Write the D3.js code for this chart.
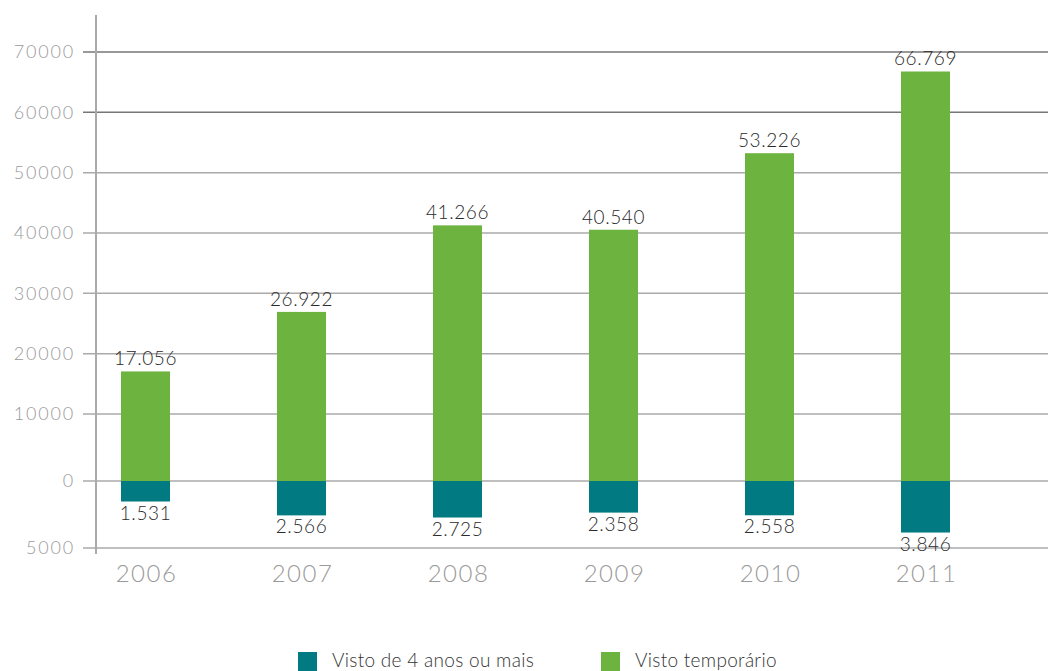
<!DOCTYPE html>
<html>
<head>
<meta charset="utf-8">
<script src="https://cdn.jsdelivr.net/npm/d3@7"></script>
<style>
  html, body { margin: 0; padding: 0; background: #fff; }
  svg { display: block; font-family: "Lato", "Open Sans", sans-serif; }
</style>
</head>
<body>
<svg id="chart" width="1048" height="671"></svg>
<script>
// Vistos concedidos por ano
const years = ["2006", "2007", "2008", "2009", "2010", "2011"];
const temporario = [17056, 26922, 41266, 40540, 53226, 66769];
const quatroAnos = [1531, 2566, 2725, 2358, 2558, 3846];
const valueLabelsTemp = ["17.056", "26.922", "41.266", "40.540", "53.226", "66.769"];
const valueLabelsQuatro = ["1.531", "2.566", "2.725", "2.358", "2.558", "3.846"];
const tickValues = [70000, 60000, 50000, 40000, 30000, 20000, 10000, 0, -5000];
const tickLabels = ["70000", "60000", "50000", "40000", "30000", "20000", "10000", "0", "5000"];
const seriesNames = ["Visto de 4 anos ou mais", "Visto temporário"];

const colTeal = "#027a82";
const colGreen = "#6db33f";

const svg = d3.select("#chart");

const x = d3.scaleBand()
  .domain(years)
  .range([67.5, 1003.5])
  .paddingInner(0.686)
  .paddingOuter(0.343);

// piecewise vertical scale: negative part stretched below zero
const y = d3.scaleLinear()
  .domain([-5000, 0, 10000, 70000])
  .range([548, 481, 414, 52]);

// gridlines
svg.append("g")
  .selectAll("line")
  .data(tickValues)
  .join("line")
  .attr("x1", 83).attr("x2", 1048)
  .attr("y1", d => y(d)).attr("y2", d => y(d))
  .attr("stroke", d => d === 70000 || d === 60000 ? "#777" : "#aaa")
  .attr("stroke-width", 1.5);

// tick labels
svg.append("g")
  .selectAll("text")
  .data(tickValues)
  .join("text")
  .attr("x", 75)
  .attr("y", d => y(d))
  .attr("dy", "0.35em")
  .attr("text-anchor", "end")
  .attr("fill", "#9a9a9a")
  .attr("font-size", 18)
  .attr("font-weight", 300)
  .attr("letter-spacing", 1.8)
  .text((d, i) => tickLabels[i]);

// vertical axis line
svg.append("line")
  .attr("x1", 96).attr("x2", 96)
  .attr("y1", 15).attr("y2", 554)
  .attr("stroke", "#aaa")
  .attr("stroke-width", 2);

// green bars (positive)
svg.append("g")
  .selectAll("rect")
  .data(temporario)
  .join("rect")
  .attr("x", (d, i) => x(years[i]))
  .attr("width", x.bandwidth())
  .attr("y", d => y(d))
  .attr("height", d => y(0) - y(d))
  .attr("fill", colGreen);

// teal bars (below zero)
svg.append("g")
  .selectAll("rect")
  .data(quatroAnos)
  .join("rect")
  .attr("x", (d, i) => x(years[i]))
  .attr("width", x.bandwidth())
  .attr("y", y(0))
  .attr("height", d => y(-d) - y(0))
  .attr("fill", colTeal);

// value labels
svg.append("g")
  .selectAll("text")
  .data(temporario)
  .join("text")
  .attr("x", (d, i) => x(years[i]) + x.bandwidth() / 2)
  .attr("y", d => y(d) - 6)
  .attr("text-anchor", "middle")
  .attr("fill", "#2a2a2a")
  .attr("font-size", 19)
  .attr("font-weight", 300)
  .attr("letter-spacing", 0.6)
  .text((d, i) => valueLabelsTemp[i]);

svg.append("g")
  .selectAll("text")
  .data(quatroAnos)
  .join("text")
  .attr("x", (d, i) => x(years[i]) + x.bandwidth() / 2)
  .attr("y", d => y(-d) + 18)
  .attr("text-anchor", "middle")
  .attr("fill", "#2a2a2a")
  .attr("font-size", 19)
  .attr("font-weight", 300)
  .attr("letter-spacing", 0.6)
  .text((d, i) => valueLabelsQuatro[i]);

// year labels
svg.append("g")
  .selectAll("text")
  .data(years)
  .join("text")
  .attr("x", d => x(d) + x.bandwidth() / 2 + 1)
  .attr("y", 582)
  .attr("text-anchor", "middle")
  .attr("fill", "#9a9a9a")
  .attr("font-size", 24)
  .attr("font-weight", 300)
  .attr("letter-spacing", 1.5)
  .text(d => d);

// legend
const legendX = [298, 601];
const legendCol = [colTeal, colGreen];
const lg = svg.append("g")
  .selectAll("g")
  .data(seriesNames)
  .join("g")
  .attr("transform", (d, i) => `translate(${legendX[i]},652)`);
lg.append("rect").attr("width", 19).attr("height", 19).attr("fill", (d, i) => legendCol[i]);
lg.append("text")
  .attr("x", 34).attr("y", 15)
  .attr("fill", "#333")
  .attr("font-size", 19)
  .attr("font-weight", 300)
  .attr("letter-spacing", 0.3)
  .text(d => d);
</script>
</body>
</html>
